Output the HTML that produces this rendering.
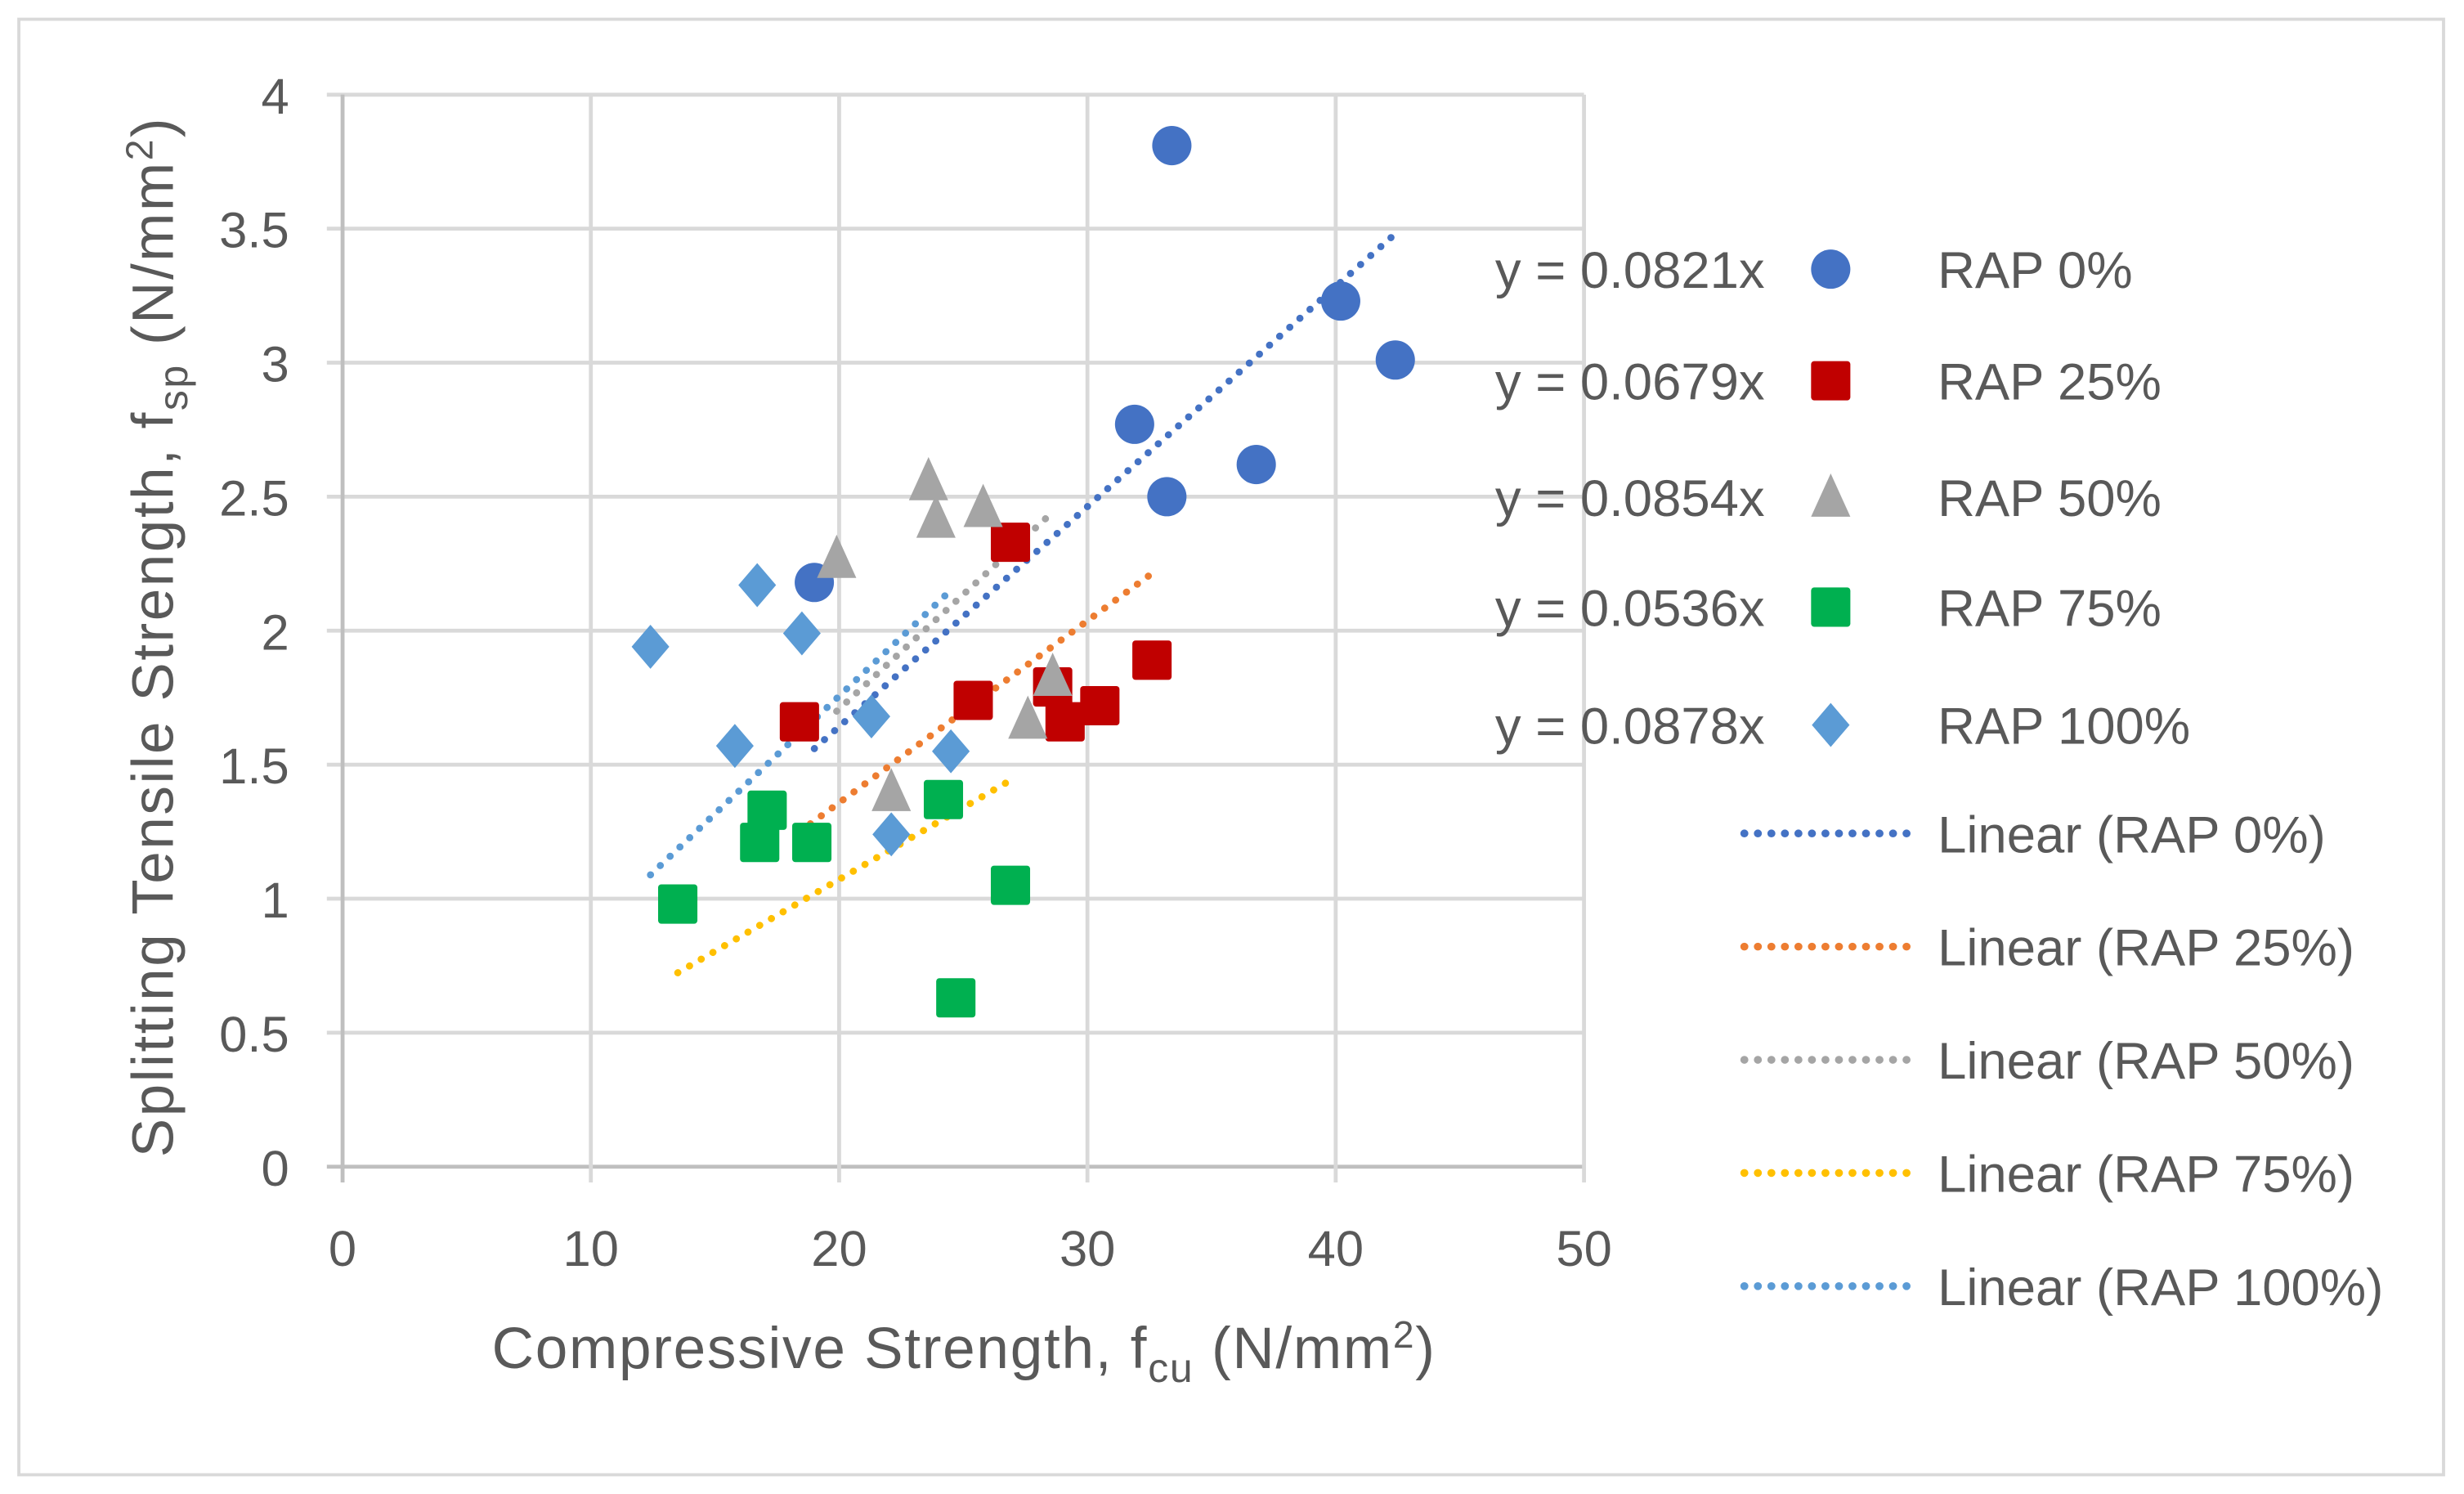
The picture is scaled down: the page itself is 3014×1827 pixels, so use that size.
<!DOCTYPE html>
<html><head><meta charset="utf-8"><style>
html,body{margin:0;padding:0;background:#fff;}
svg{display:block;font-family:"Liberation Sans",sans-serif;}
</style></head><body>
<svg id="chart" width="3014" height="1827" viewBox="0 0 1568 950" xmlns="http://www.w3.org/2000/svg">
<rect x="12" y="12" width="1543" height="926" fill="#fff" stroke="#d9d9d9" stroke-width="2"/>
<g id="grid"></g>
<g id="axes"></g>
<g id="trends"></g>
<g id="points"></g>
<g id="legend"></g>
<text x="313" y="870" font-size="37" fill="#595959" letter-spacing="0.9">Compressive Strength, f<tspan font-size="26" dy="9">cu</tspan><tspan dy="-9"> (N/mm</tspan><tspan font-size="24" dy="-13">2</tspan><tspan dy="13">)</tspan></text>
<text transform="translate(110,736) rotate(-90)" font-size="37" fill="#595959" letter-spacing="1.3">Splitting Tensile Strength, f<tspan font-size="26" dy="9">sp</tspan><tspan dy="-9"> (N/mm</tspan><tspan font-size="24" dy="-13">2</tspan><tspan dy="13">)</tspan></text>
</svg>
<script>
const xTicks=[0,10,20,30,40,50];
const yTicks=[0,0.5,1,1.5,2,2.5,3,3.5,4];
const seriesNames=["RAP 0%","RAP 25%","RAP 50%","RAP 75%","RAP 100%"];
const slopes=[0.0821,0.0679,0.0854,0.0536,0.0878];
const equations=["y = 0.0821x","y = 0.0679x","y = 0.0854x","y = 0.0536x","y = 0.0878x"];
const rap0X=[19,31.9,33.2,33.4,36.8,40.2,42.4];
const rap0Y=[2.18,2.77,2.5,3.81,2.62,3.23,3.01];
const rap25X=[18.4,25.4,26.9,28.6,29.1,30.5,32.6];
const rap25Y=[1.66,1.74,2.33,1.79,1.66,1.72,1.89];
const rap50X=[19.9,22.1,23.6,23.9,25.8,27.6,28.6];
const rap50Y=[2.27,1.40,2.56,2.42,2.46,1.67,1.83];
const rap75X=[13.5,16.8,17.1,18.9,24.2,24.7,26.9];
const rap75Y=[0.98,1.21,1.33,1.21,1.37,0.63,1.05];
const rap100X=[12.4,15.8,16.7,18.5,21.3,22.1,24.5];
const rap100Y=[1.94,1.57,2.17,1.99,1.68,1.24,1.55];

const NS="http://www.w3.org/2000/svg";
const X0=218,X1=1008,Y0=742,Y1=60;
const sx=v=>X0+(v-0)/(50-0)*(X1-X0);
const sy=v=>Y0-(v-0)/(4-0)*(Y0-Y1);
function mk(tag,attrs,parent){const e=document.createElementNS(NS,tag);for(const k in attrs)e.setAttribute(k,attrs[k]);parent.appendChild(e);return e;}
const grid=document.getElementById('grid'),axes=document.getElementById('axes'),trends=document.getElementById('trends'),pts=document.getElementById('points'),leg=document.getElementById('legend');
yTicks.forEach(t=>{
 const l=mk('line',{x1:X0-10,x2:X1,y1:sy(t),y2:sy(t),stroke:t===0?'#bfbfbf':'#d9d9d9','stroke-width':2.5},grid);
 
 
 const tx=mk('text',{x:X0-34,y:sy(t)+12,'font-size':32,fill:'#595959','text-anchor':'end'},axes);
 tx.textContent=String(t);
 
 
});
xTicks.forEach(t=>{
 const l=mk('line',{x1:sx(t),x2:sx(t),y1:Y1,y2:Y0+10,stroke:t===0?'#bfbfbf':'#d9d9d9','stroke-width':2.5},grid);
 
 
 const tx=mk('text',{x:sx(t),y:Y0+63,'font-size':32,fill:'#595959','text-anchor':'middle'},axes);
 tx.textContent=String(t);
 
 
});
const colors=["#4472C4","#C00000","#A5A5A5","#00B050","#5B9BD5"];
const trendColors=["#4472C4","#ED7D31","#A5A5A5","#FFC000","#5B9BD5"];
const shapes=["circle","square","triangle","square","diamond"];
const XS=[rap0X,rap25X,rap50X,rap75X,rap100X],YS=[rap0Y,rap25Y,rap50Y,rap75Y,rap100Y];
function marker(shape,cx,cy,color,parent,s){
 s=s||1;let e;
 if(shape==='circle')e=mk('ellipse',{cx:cx,cy:cy,rx:12.5*s,ry:12.5*s,fill:color},parent);
 else if(shape==='square')e=mk('rect',{x:cx-12.5*s,y:cy-12.5*s,width:25*s,height:25*s,rx:2,fill:color},parent);
 else if(shape==='triangle')e=mk('polygon',{points:`${cx},${cy-15*s} ${cx+12.5*s},${cy+12.5*s} ${cx-12.5*s},${cy+12.5*s}`,fill:color},parent);
 else e=mk('polygon',{points:`${cx},${cy-14*s} ${cx+12*s},${cy} ${cx},${cy+14*s} ${cx-12*s},${cy}`,fill:color},parent);
 return e;
}
XS.forEach((xs,i)=>{
 const mn=Math.min(...xs),mx=Math.max(...xs);
 const l=mk('line',{x1:sx(mn),y1:sy(slopes[i]*mn),x2:sx(mx),y2:sy(slopes[i]*mx),stroke:trendColors[i],'stroke-width':4.5,'stroke-dasharray':'0.1 8.5','stroke-linecap':'round'},trends);
 
 
});
XS.forEach((xs,i)=>{
 xs.forEach((x,j)=>{
  const m=marker(shapes[i],sx(x),sy(YS[i][j]),colors[i],pts);
  
  
 });
});
const rowY=[171,242,316,386,461];
seriesNames.forEach((n,i)=>{
 const e=mk('text',{x:1123,y:rowY[i]+12,'font-size':33,fill:'#595959','text-anchor':'end'},leg);
 e.textContent=equations[i];
 
 
 const m=marker(shapes[i],1165,rowY[i],colors[i],leg);
 
 
 const t=mk('text',{x:1233,y:rowY[i]+12,'font-size':33,fill:'#595959'},leg);
 t.textContent=n;
 
 
});
const linY=[530,602,674,746,818];
seriesNames.forEach((n,i)=>{
 const l=mk('line',{x1:1110,x2:1218,y1:linY[i],y2:linY[i],stroke:trendColors[i],'stroke-width':5,'stroke-dasharray':'0.1 8.5','stroke-linecap':'round'},leg);
 
 
 const t=mk('text',{x:1233,y:linY[i]+12,'font-size':33,fill:'#595959'},leg);
 t.textContent='Linear ('+n+')';
 
 
});
</script>
</body></html>
